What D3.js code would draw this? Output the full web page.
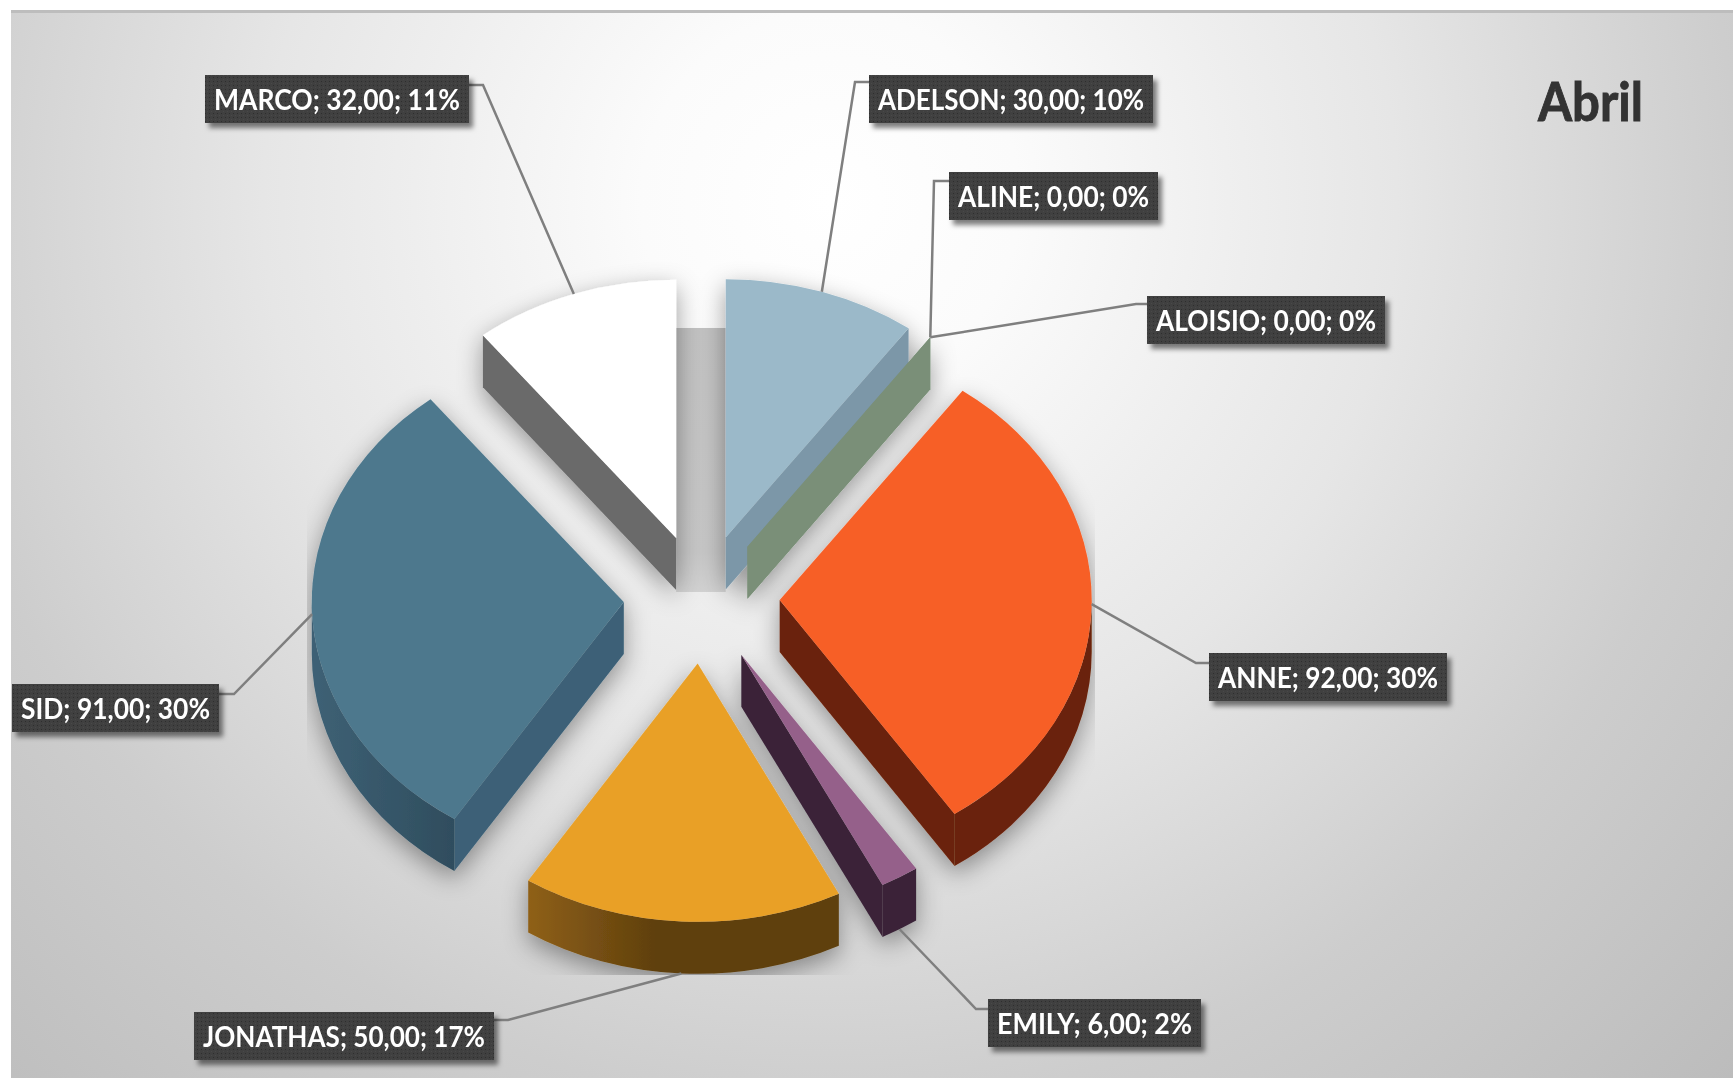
<!DOCTYPE html>
<html>
<head>
<meta charset="utf-8">
<script src="https://cdn.jsdelivr.net/npm/d3@7"></script>
<style>
  html, body { margin: 0; padding: 0; background: #fff; overflow: hidden; }
  text { font-family: Lato, "Open Sans", sans-serif; font-weight: 700; }
</style>
</head>
<body>
<div id="chart"></div>
<script>
// values
var names = ["ADELSON", "ALINE", "ALOISIO", "ANNE", "EMILY", "JONATHAS", "SID", "MARCO"]
var values = [30, 0, 0, 92, 6, 50, 91, 32]
var percents = [10, 0, 0, 30, 2, 17, 30, 11]
var title = "Abril"

// colours per slice
var topColors = ["#9bb9c9", "#7a8f78", "#7a8f78", "#f75f26", "#95618a", "#e9a028", "#4d788d", "#ffffff"]
var wallColors = ["#7b97a8", "#7a8f78", "#7a8f78", "#6b2208", "#3a2438", "url(#wallJonathas)", "url(#wallSid)", "#6b6b6b"]
var cutColors = ["#7b97a8", "#7a8f78", "#7a8f78", "#6b2208", "#3a2438", "#5e3f0d", "#3c6177", "#6b6b6b"]

// label boxes: left, top, width (same order as names)
var labelBoxes = [
  [869, 75, 284], [949, 172, 209], [1147, 296, 238], [1209, 653, 238],
  [988, 999, 213], [194, 1012, 300], [12, 684, 207], [205, 75, 264]
]
// elbow of every leader line: x next to the box, y, x where the line meets the box
var elbows = [
  [855, 82, 869], [934, 181, 949], [1136, 304, 1147], [1196, 663, 1209],
  [976, 1009, 988], [508, 1020, 494], [234, 694, 219], [483, 85, 469]
]

var width = 1733
var height = 1078
var boxHeight = 48

// pie geometry
var cx = 701.7
var cy = 599
var radius = 312
var tilt = 0.828
var depth = 52
var explode = 78
var deg90 = Math.PI / 2

var svg = d3.select("#chart").append("svg")
  .attr("width", width)
  .attr("height", height)
  .style("display", "block")

var defs = svg.append("defs")

var bg = defs.append("radialGradient")
  .attr("id", "bg")
  .attr("gradientUnits", "userSpaceOnUse")
  .attr("cx", 830).attr("cy", 200).attr("r", 1260)
bg.append("stop").attr("offset", 0).attr("stop-color", "#ffffff")
bg.append("stop").attr("offset", 0.15).attr("stop-color", "#fbfbfb")
bg.append("stop").attr("offset", 0.33).attr("stop-color", "#eeeeee")
bg.append("stop").attr("offset", 0.45).attr("stop-color", "#e6e6e6")
bg.append("stop").attr("offset", 0.72).attr("stop-color", "#cdcdcd")
bg.append("stop").attr("offset", 1).attr("stop-color", "#bcbcbc")

var wj = defs.append("linearGradient").attr("id", "wallJonathas")
wj.append("stop").attr("offset", 0).attr("stop-color", "#8f6018")
wj.append("stop").attr("offset", 0.42).attr("stop-color", "#5e3f0d")
wj.append("stop").attr("offset", 1).attr("stop-color", "#5e3f0d")

var ws = defs.append("linearGradient").attr("id", "wallSid")
ws.append("stop").attr("offset", 0).attr("stop-color", "#3e6175")
ws.append("stop").attr("offset", 1).attr("stop-color", "#2f4d5e")

var gap = defs.append("linearGradient").attr("id", "gapShade").attr("x2", 0).attr("y2", 1)
gap.append("stop").attr("offset", 0).attr("stop-color", "#c2c2c2")
gap.append("stop").attr("offset", 0.85).attr("stop-color", "#c6c6c6")
gap.append("stop").attr("offset", 1).attr("stop-color", "#d2d2d2")

// the shadow stops at a hard rectangle in the picture, so the filter region is set by hand
var pieShadow = defs.append("filter").attr("id", "pieShadow")
  .attr("filterUnits", "userSpaceOnUse")
  .attr("x", 307).attr("y", 250).attr("width", 788).attr("height", 725)
pieShadow.append("feDropShadow")
  .attr("dx", 0).attr("dy", 8).attr("stdDeviation", 12)
  .attr("flood-color", "#000").attr("flood-opacity", 0.38)

var boxShadow = defs.append("filter").attr("id", "boxShadow")
  .attr("x", "-5%").attr("y", "-20%").attr("width", "112%").attr("height", "150%")
boxShadow.append("feDropShadow")
  .attr("dx", 4).attr("dy", 5).attr("stdDeviation", 2.5)
  .attr("flood-color", "#000").attr("flood-opacity", 0.5)

var dots = defs.append("pattern").attr("id", "dots")
  .attr("patternUnits", "userSpaceOnUse").attr("width", 4).attr("height", 4)
dots.append("rect").attr("width", 4).attr("height", 4).attr("fill", "#3f3f3f")
dots.append("rect").attr("x", 1).attr("y", 1).attr("width", 1).attr("height", 1).attr("fill", "#2f2f2f")
dots.append("rect").attr("x", 3).attr("y", 3).attr("width", 1).attr("height", 1).attr("fill", "#4a4a4a")

// background
svg.append("rect")
  .attr("x", 11).attr("y", 10)
  .attr("width", width - 11).attr("height", height - 10)
  .attr("fill", "url(#bg)")
svg.append("rect")
  .attr("x", 11).attr("y", 10)
  .attr("width", width - 11).attr("height", 3)
  .attr("fill", "#bdbdbd")

// Compute the position of each slice, clockwise from 12 o'clock
var pie = d3.pie().sort(null).value(function(d) { return d })
var slices = pie(values).map(function(d, i) {
  var mid = (d.startAngle + d.endAngle) / 2
  d.i = i
  d.mid = mid
  d.tipX = cx + explode * Math.sin(mid)
  d.tipY = cy - explode * tilt * Math.cos(mid)
  return d
})

function edge(d, a) {
  return [d.tipX + radius * Math.sin(a), d.tipY - radius * tilt * Math.cos(a)]
}

// curved outer wall, only the part that looks down at the viewer
function outerWall(d) {
  var a0 = Math.max(d.startAngle, deg90)
  var a1 = Math.min(d.endAngle, 3 * deg90)
  if (a1 <= a0) return null
  var p0 = edge(d, a0)
  var p1 = edge(d, a1)
  var rx = radius
  var ry = radius * tilt
  return "M" + p0 + "A" + rx + "," + ry + " 0 0 1 " + p1 +
    "L" + p1[0] + "," + (p1[1] + depth) +
    "A" + rx + "," + ry + " 0 0 0 " + p0[0] + "," + (p0[1] + depth) + "Z"
}

// flat wall on a cut edge of the slice
function cutWall(d, a) {
  var p = edge(d, a)
  return "M" + d.tipX + "," + d.tipY + "L" + p +
    "L" + p[0] + "," + (p[1] + depth) +
    "L" + d.tipX + "," + (d.tipY + depth) + "Z"
}

var arc = d3.arc().innerRadius(0).outerRadius(radius)

var marco = slices[7]
var adelson = slices[0]

// grey gap seen between the first and the last slice
svg.append("rect")
  .attr("x", marco.tipX)
  .attr("y", marco.tipY - 210)
  .attr("width", adelson.tipX - marco.tipX)
  .attr("height", 210 + depth + 2)
  .attr("fill", "url(#gapShade)")

var pieGroup = svg.append("g").attr("filter", "url(#pieShadow)")

// back slices first
var drawOrder = [7, 0, 1, 2, 3, 6, 4, 5]
drawOrder.forEach(function(i) {
  var d = slices[i]
  var g = pieGroup.append("g")

  // end cut faces us on the right half, start cut on the left half
  if (Math.sin(d.endAngle) > 0) {
    g.append("path").attr("d", cutWall(d, d.endAngle)).attr("fill", cutColors[i])
  }
  if (Math.sin(d.startAngle) < 0) {
    g.append("path").attr("d", cutWall(d, d.startAngle)).attr("fill", cutColors[i])
  }
  var wall = outerWall(d)
  if (wall) g.append("path").attr("d", wall).attr("fill", wallColors[i])

  g.append("path")
    .attr("d", arc(d))
    .attr("transform", "translate(" + d.tipX + "," + d.tipY + ") scale(1," + tilt + ")")
    .attr("fill", topColors[i])
})

// leader lines end on the outer edge of each slice at its middle angle
slices.forEach(function(d, i) {
  var p = edge(d, d.mid)
  var bottom = Math.cos(d.mid) < -0.5 ? depth : 0
  var e = elbows[i]
  svg.append("polyline")
    .attr("points", [[p[0], p[1] + bottom], [e[0], e[1]], [e[2], e[1]]].join(" "))
    .attr("fill", "none")
    .attr("stroke", "#7f7f7f")
    .attr("stroke-width", 2.5)
})

// labels
names.forEach(function(name, i) {
  var b = labelBoxes[i]
  var g = svg.append("g")
  g.append("rect")
    .attr("x", b[0]).attr("y", b[1])
    .attr("width", b[2]).attr("height", boxHeight)
    .attr("fill", "url(#dots)")
    .attr("filter", "url(#boxShadow)")
  g.append("text")
    .attr("x", b[0] + 9)
    .attr("y", b[1] + 35)
    .attr("font-size", 28)
    .attr("fill", "#ffffff")
    .attr("textLength", b[2] - 18)
    .attr("lengthAdjust", "spacingAndGlyphs")
    .text(name + "; " + values[i].toFixed(2).replace(".", ",") + "; " + percents[i] + "%")
})

svg.append("text")
  .attr("x", 1538)
  .attr("y", 121)
  .attr("font-size", 53)
  .attr("fill", "#333333")
  .attr("stroke", "#333333")
  .attr("stroke-width", 0.9)
  .attr("textLength", 105)
  .attr("lengthAdjust", "spacingAndGlyphs")
  .text(title)
</script>
</body>
</html>
